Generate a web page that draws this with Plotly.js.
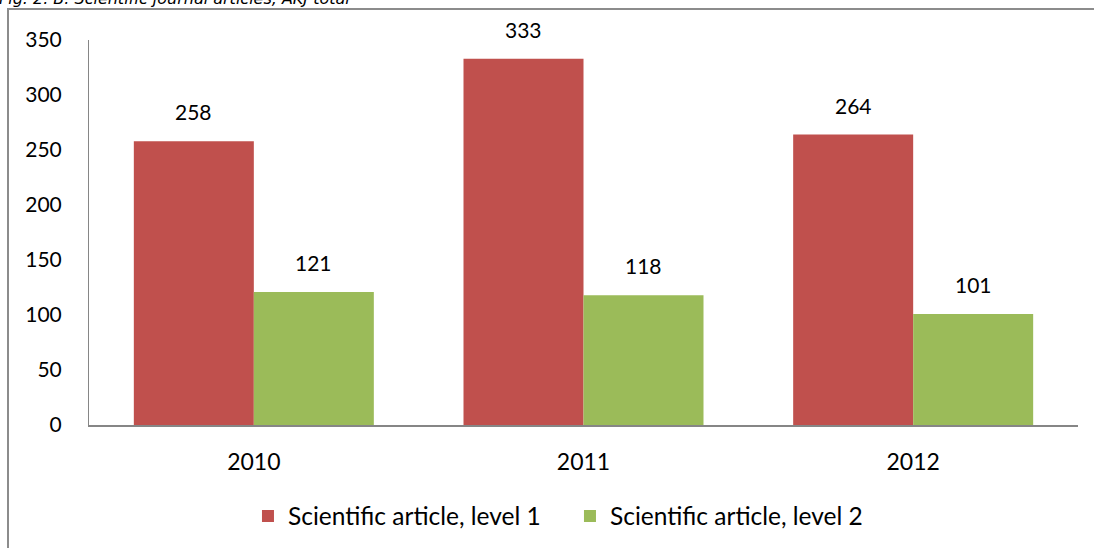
<!DOCTYPE html>
<html>
<head>
<meta charset="utf-8">
<script src="https://cdn.plot.ly/plotly-3.0.1.min.js"></script>
<style>
  html, body { margin:0; padding:0; background:#fff; overflow:hidden; }
  #wrap { position:relative; width:1094px; height:548px; overflow:hidden; }
  #frame { position:absolute; left:7px; top:8px; width:1200px; height:700px;
           border-left:2px solid #8c8c8c; border-top:2px solid #8c8c8c; box-sizing:border-box; }
  #cap { position:absolute; left:-1px; top:-11px; font-family:"DejaVu Sans", sans-serif;
         font-style:italic; font-size:16px; color:#000; white-space:nowrap; }
  #chart { position:absolute; left:0; top:0; width:1094px; height:548px; }
</style>
</head>
<body>
<div id="wrap">
  <div id="cap">Fig. 2. B. Scientific journal articles, AKJ total</div>
  <div id="frame"></div>
  <div id="chart"></div>
</div>
<script>
const categories = ["2010", "2011", "2012"];
const seriesNames = ["Scientific article, level 1", "Scientific article, level 2"];
const level1 = [258, 333, 264];
const level2 = [121, 118, 101];
const yTicks = [0, 50, 100, 150, 200, 250, 300, 350];

const colors = ["#C0504D", "#9BBB59"];
const barW = 0.364;
const FONT = "Lato, 'Open Sans', sans-serif";
const xIdx = categories.map((c, i) => i);
const seriesVals = [level1, level2];
const offsets = [-barW, 0];

const traces = seriesVals.map((vals, s) => ({
  type: "bar",
  name: seriesNames[s],
  x: xIdx,
  y: vals,
  width: barW,
  offset: offsets[s],
  marker: { color: colors[s] },
  hoverinfo: "skip"
}));

const annotations = [];
seriesVals.forEach((vals, s) => {
  vals.forEach((v, i) => {
    annotations.push({
      x: xIdx[i] + offsets[s] + barW / 2, y: v, xref: "x", yref: "y",
      text: String(v), showarrow: false, yanchor: "bottom", yshift: 15,
      font: { family: FONT, size: 21, color: "#000" }
    });
  });
});

const layout = {
  width: 1094, height: 548,
  margin: { l: 89, r: 16, t: 40, b: 123 },
  paper_bgcolor: "rgba(0,0,0,0)",
  plot_bgcolor: "rgba(0,0,0,0)",
  showlegend: true,
  barmode: "overlay",
  xaxis: {
    range: [-0.5, 2.5],
    tickvals: xIdx, ticktext: categories,
    showgrid: false, zeroline: false,
    showline: true, linecolor: "#868686", linewidth: 2,
    ticks: "", ticklabelstandoff: 15,
    tickfont: { family: FONT, size: 23, color: "#000" },
    fixedrange: true
  },
  yaxis: {
    range: [0, 350],
    tickvals: yTicks,
    showgrid: false, zeroline: false,
    showline: true, linecolor: "#868686", linewidth: 1,
    ticks: "", ticklabelstandoff: 22,
    tickfont: { family: FONT, size: 21, color: "#000" },
    fixedrange: true
  },
  legend: {
    orientation: "h", x: 0.521, xref: "container", xanchor: "center",
    y: 0.0584, yref: "container", yanchor: "middle",
    font: { family: FONT, size: 24.5, color: "#000" },
    itemwidth: 30, tracegroupgap: 0, itemclick: false,
    entrywidth: 277
  },
  annotations: annotations
};

Plotly.newPlot("chart", traces, layout, { displayModeBar: false, staticPlot: true });
</script>
</body>
</html>
